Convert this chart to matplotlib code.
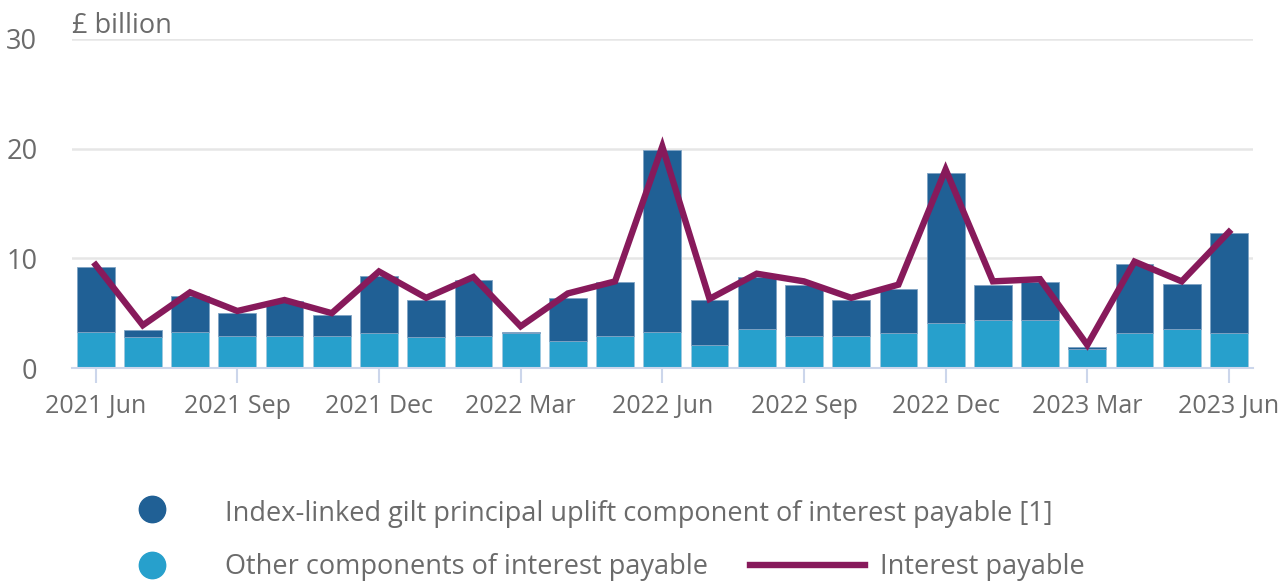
import numpy as np
import matplotlib.pyplot as plt
from matplotlib.lines import Line2D

plt.rcParams['font.family'] = ['Open Sans', 'DejaVu Sans']

# monthly data, June 2021 to June 2023 (£ billion)
months = ['2021 Jun', '2021 Jul', '2021 Aug', '2021 Sep', '2021 Oct', '2021 Nov',
          '2021 Dec', '2022 Jan', '2022 Feb', '2022 Mar', '2022 Apr', '2022 May',
          '2022 Jun', '2022 Jul', '2022 Aug', '2022 Sep', '2022 Oct', '2022 Nov',
          '2022 Dec', '2023 Jan', '2023 Feb', '2023 Mar', '2023 Apr', '2023 May',
          '2023 Jun']
other = [3.3, 2.8, 3.3, 2.9, 2.9, 2.9, 3.2, 2.8, 2.9, 3.2, 2.5, 2.9,
         3.3, 2.1, 3.6, 2.9, 2.9, 3.2, 4.1, 4.4, 4.4, 1.7, 3.2, 3.6, 3.2]
uplift = [5.9, 0.7, 3.3, 2.1, 3.2, 1.9, 5.2, 3.4, 5.1, 0.1, 3.9, 4.9,
          16.6, 4.1, 4.7, 4.7, 3.3, 4.0, 13.7, 3.2, 3.4, 0.2, 6.3, 4.1, 9.1]
interest = [9.4, 3.9, 6.9, 5.2, 6.2, 5.0, 8.8, 6.4, 8.3, 3.8, 6.8, 7.9,
            20.2, 6.3, 8.6, 7.9, 6.4, 7.6, 18.1, 7.9, 8.1, 2.1, 9.7, 7.9, 12.4]
tick_labels = ['2021 Jun', '2021 Sep', '2021 Dec', '2022 Mar', '2022 Jun',
               '2022 Sep', '2022 Dec', '2023 Mar', '2023 Jun']

dark = '#206095'
light = '#27a0cc'
plum = '#871a5b'
grey = '#6b6b6b'

fig = plt.figure(figsize=(12.86, 5.81), dpi=100)
ax = fig.add_axes([0.056, 0.3666, 0.918, 0.5663])

x = np.arange(len(months))
ax.bar(x, other, width=0.8, color=light, edgecolor='#9fc9e0', linewidth=0.6, zorder=2)
ax.bar(x, uplift, width=0.8, bottom=other, color=dark, edgecolor='#7fa3c4',
       linewidth=0.6, zorder=2)
ax.plot(x, interest, color=plum, linewidth=4.6, zorder=3, solid_joinstyle='miter')

ax.set_xlim(-0.5, len(months) - 0.5)
ax.set_ylim(0, 30)
ax.set_yticks([0, 10, 20, 30])
ax.yaxis.grid(True, color='#e6e6e6', linewidth=1.8, zorder=0)
ax.set_axisbelow(True)

tick_pos = [months.index(t) for t in tick_labels]
ax.set_xticks(tick_pos)
ax.set_xticklabels(tick_labels)

for s in ['top', 'right', 'left']:
    ax.spines[s].set_visible(False)
ax.spines['bottom'].set_color('#ccd6eb')
ax.spines['bottom'].set_linewidth(1.5)
ax.tick_params(axis='x', colors='#ccd6eb', length=11, width=1.5, pad=8,
               labelcolor=grey, labelsize=18)
ax.tick_params(axis='y', length=0, pad=25, labelcolor=grey, labelsize=19.5)

fig.text(0.056, 0.955, '£ billion', color=grey, fontsize=19.5, va='center', ha='left')

# legend drawn by hand to match the layout
fig.add_artist(Line2D([0.118], [0.124], transform=fig.transFigure, marker='o',
                      markersize=19, color=dark, linestyle='none'))
fig.add_artist(Line2D([0.118], [0.028], transform=fig.transFigure, marker='o',
                      markersize=19, color=light, linestyle='none'))
fig.add_artist(Line2D([0.583, 0.673], [0.028, 0.028], transform=fig.transFigure,
                      color=plum, linewidth=4.6))
fig.text(0.175, 0.116, 'Index-linked gilt principal uplift component of interest payable [1]',
         color=grey, fontsize=19.5, va='center', ha='left')
fig.text(0.175, 0.024, 'Other components of interest payable',
         color=grey, fontsize=19.5, va='center', ha='left')
fig.text(0.684, 0.024, 'Interest payable', color=grey, fontsize=19.5, va='center', ha='left')

fig.savefig('out.png', dpi=100)
